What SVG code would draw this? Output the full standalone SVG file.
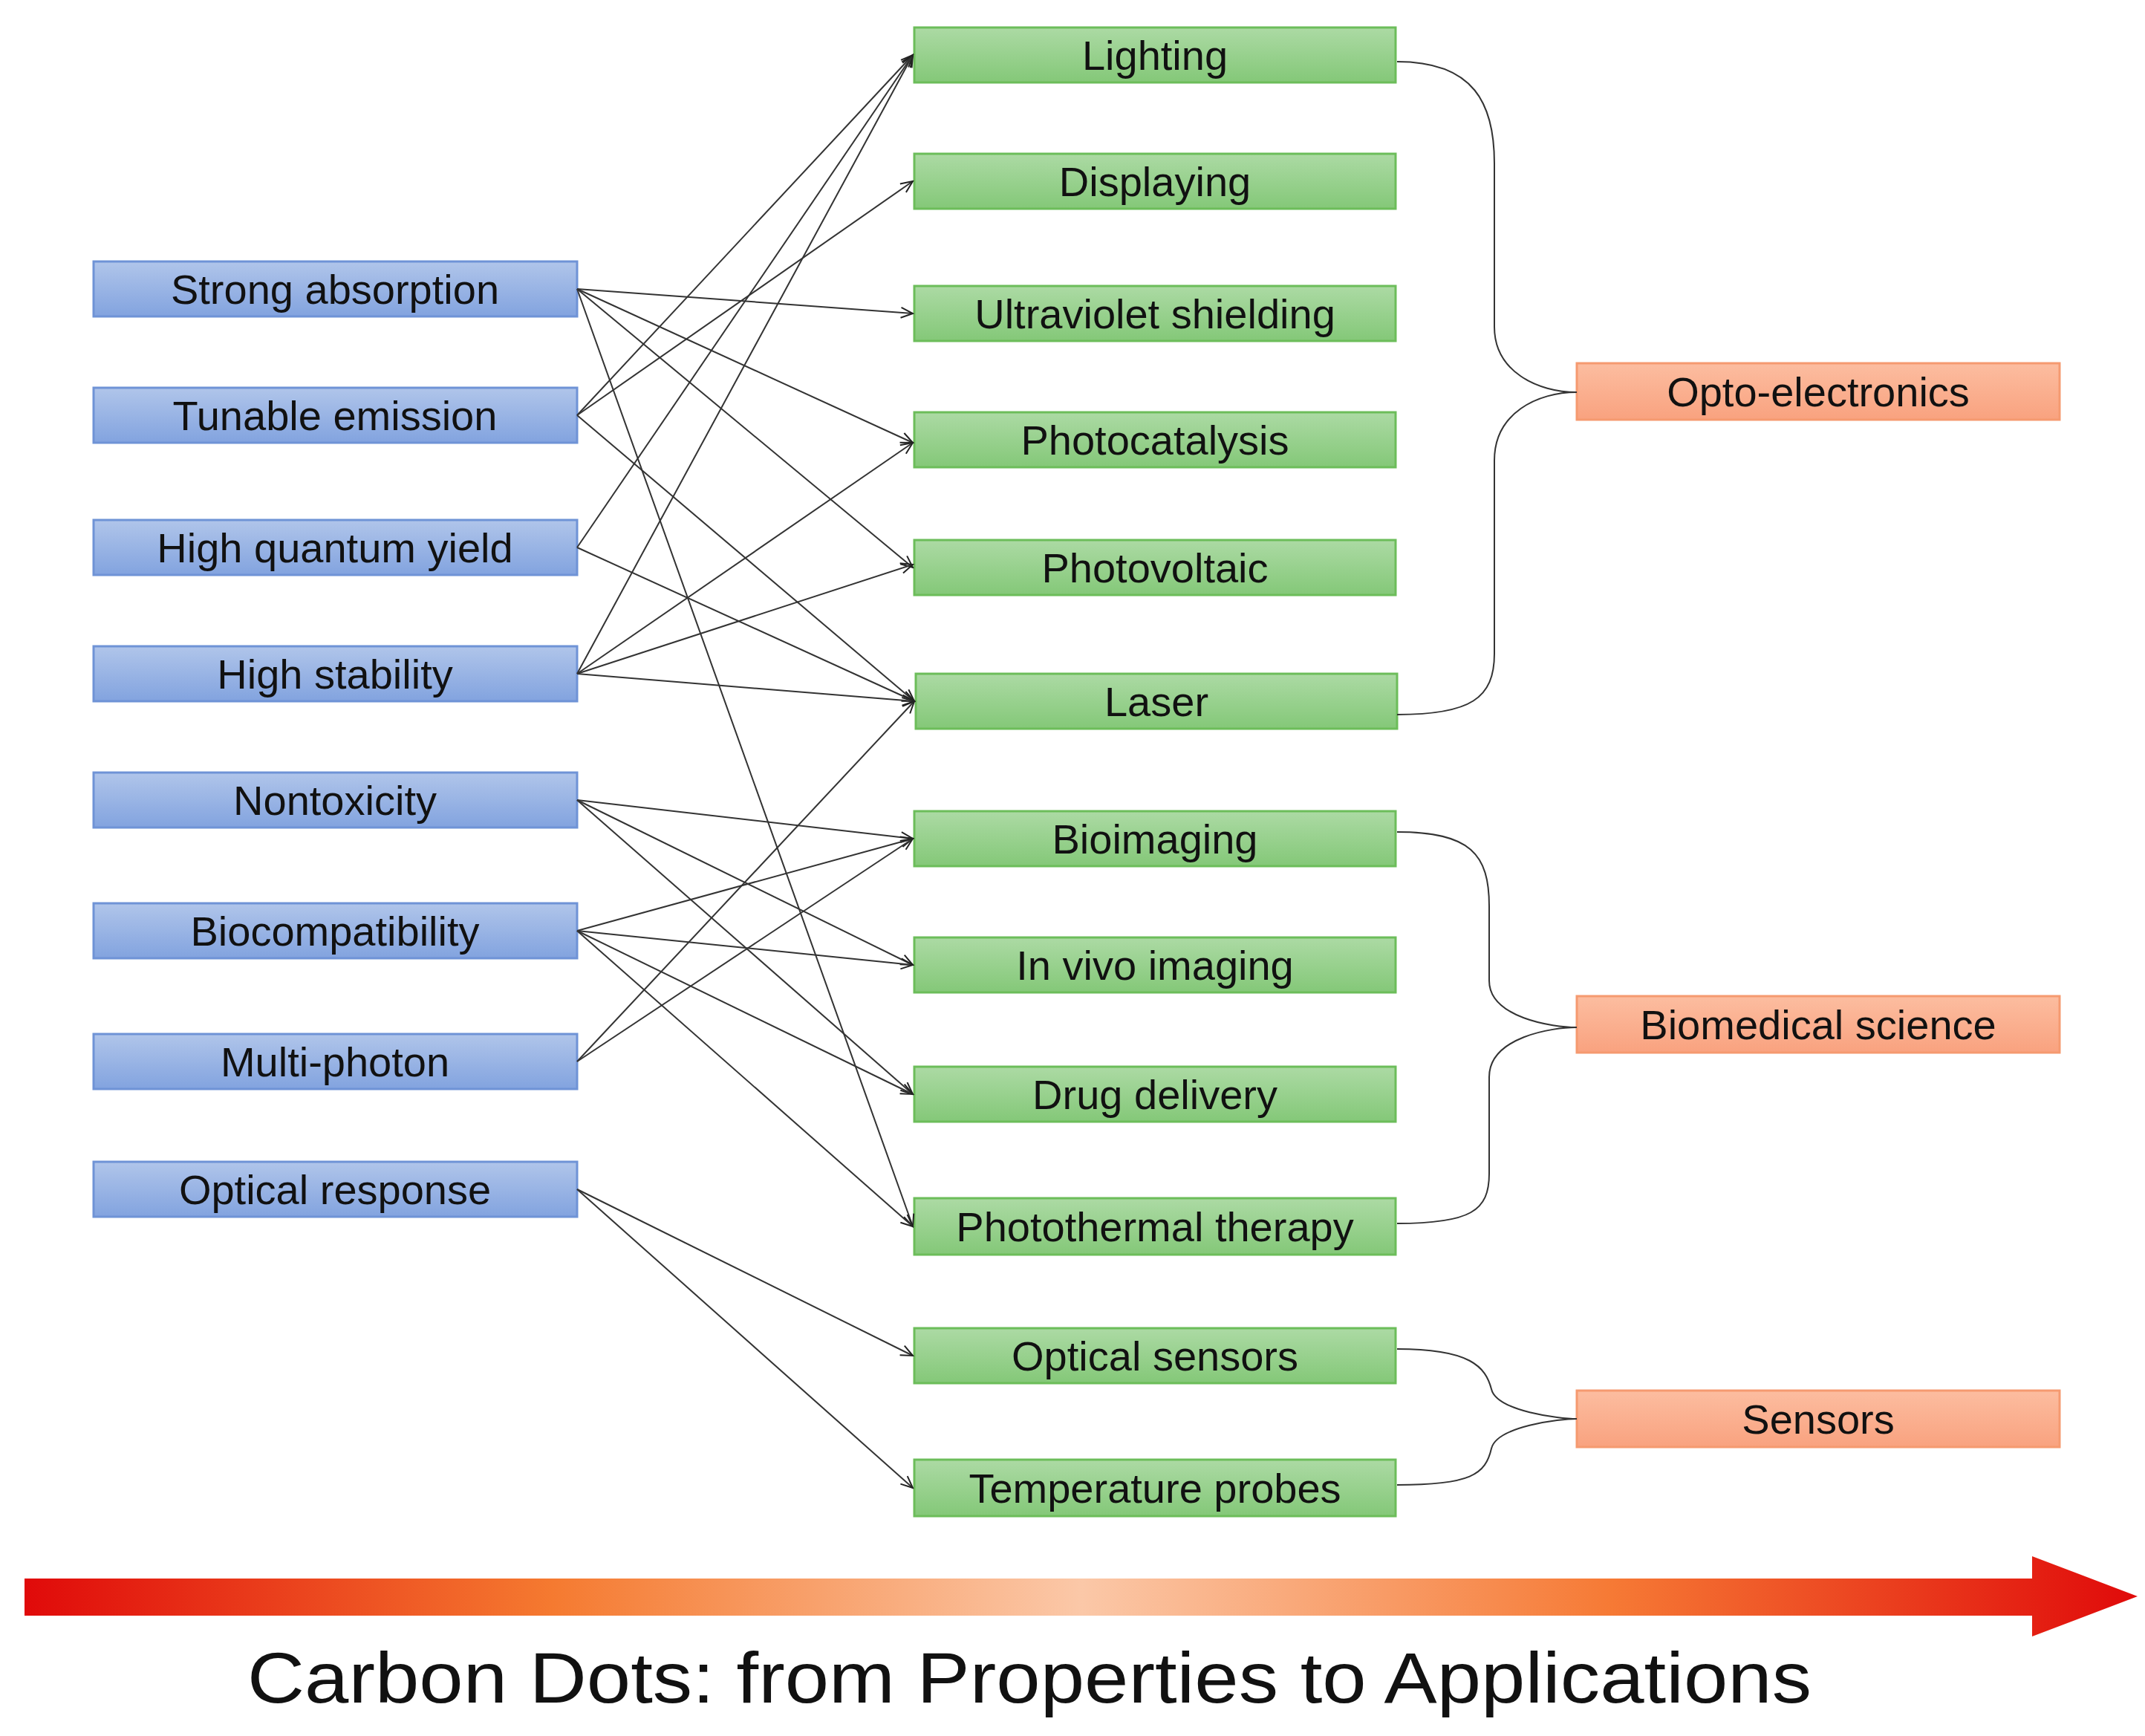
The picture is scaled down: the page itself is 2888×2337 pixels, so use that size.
<svg xmlns="http://www.w3.org/2000/svg" width="2888" height="2337" viewBox="0 0 2888 2337">
<defs>
<linearGradient id="gb" x1="0" y1="0" x2="0" y2="1"><stop offset="0" stop-color="#b0c5ea"/><stop offset="1" stop-color="#82a3df"/></linearGradient>
<linearGradient id="gg" x1="0" y1="0" x2="0" y2="1"><stop offset="0" stop-color="#acdaa4"/><stop offset="1" stop-color="#84c878"/></linearGradient>
<linearGradient id="go" x1="0" y1="0" x2="0" y2="1"><stop offset="0" stop-color="#fcbda0"/><stop offset="1" stop-color="#f9a27f"/></linearGradient>
<linearGradient id="ga" x1="0" y1="0" x2="1" y2="0"><stop offset="0" stop-color="#e00a0a"/><stop offset="0.25" stop-color="#f57a30"/><stop offset="0.5" stop-color="#fbc8a8"/><stop offset="0.75" stop-color="#f67a35"/><stop offset="1" stop-color="#e00a0a"/></linearGradient>
<marker id="ah" viewBox="0 0 20 20" refX="18" refY="10" markerWidth="20" markerHeight="20" markerUnits="userSpaceOnUse" orient="auto"><path d="M2,3 L18,10 L2,17" fill="none" stroke="#222" stroke-width="2"/></marker>
</defs>
<style>
.b{fill:url(#gb);stroke:#6f93d6;stroke-width:3}
.g{fill:url(#gg);stroke:#6cbd5a;stroke-width:3}
.o{fill:url(#go);stroke:#f59a70;stroke-width:3}
text{font-family:"Liberation Sans","Noto Sans",sans-serif;font-size:56px;fill:#111;text-anchor:middle;dominant-baseline:central}
.e{fill:none;stroke:#333;stroke-width:2;marker-end:url(#ah)}
.c{fill:none;stroke:#333;stroke-width:2}
</style>
<rect width="2888" height="2337" fill="#fff"/>
<g id="left">
<g id="n-strong"><rect class="b" x="126" y="352" width="651" height="74"/><text x="451" y="389">Strong absorption</text></g>
<g id="n-tunable"><rect class="b" x="126" y="522" width="651" height="74"/><text x="451" y="559">Tunable emission</text></g>
<g id="n-hqy"><rect class="b" x="126" y="700" width="651" height="74"/><text x="451" y="737">High quantum yield</text></g>
<g id="n-hs"><rect class="b" x="126" y="870" width="651" height="74"/><text x="451" y="907">High stability</text></g>
<g id="n-nontox"><rect class="b" x="126" y="1040" width="651" height="74"/><text x="451" y="1077">Nontoxicity</text></g>
<g id="n-biocomp"><rect class="b" x="126" y="1216" width="651" height="74"/><text x="451" y="1253">Biocompatibility</text></g>
<g id="n-multi"><rect class="b" x="126" y="1392" width="651" height="74"/><text x="451" y="1429">Multi-photon</text></g>
<g id="n-optresp"><rect class="b" x="126" y="1564" width="651" height="74"/><text x="451" y="1601">Optical response</text></g>
</g>
<g id="middle">
<g id="n-lighting"><rect class="g" x="1231" y="37" width="648" height="74"/><text x="1555" y="74">Lighting</text></g>
<g id="n-display"><rect class="g" x="1231" y="207" width="648" height="74"/><text x="1555" y="244">Displaying</text></g>
<g id="n-uv"><rect class="g" x="1231" y="385" width="648" height="74"/><text x="1555" y="422">Ultraviolet shielding</text></g>
<g id="n-photocat"><rect class="g" x="1231" y="555" width="648" height="74"/><text x="1555" y="592">Photocatalysis</text></g>
<g id="n-pv"><rect class="g" x="1231" y="727" width="648" height="74"/><text x="1555" y="764">Photovoltaic</text></g>
<g id="n-laser"><rect class="g" x="1233" y="907" width="648" height="74"/><text x="1557" y="944">Laser</text></g>
<g id="n-bioimg"><rect class="g" x="1231" y="1092" width="648" height="74"/><text x="1555" y="1129">Bioimaging</text></g>
<g id="n-invivo"><rect class="g" x="1231" y="1262" width="648" height="74"/><text x="1555" y="1299">In vivo imaging</text></g>
<g id="n-drug"><rect class="g" x="1231" y="1436" width="648" height="74"/><text x="1555" y="1473">Drug delivery</text></g>
<g id="n-ptt"><rect class="g" x="1231" y="1613" width="648" height="76"/><text x="1555" y="1651">Photothermal therapy</text></g>
<g id="n-optsens"><rect class="g" x="1231" y="1788" width="648" height="74"/><text x="1555" y="1825">Optical sensors</text></g>
<g id="n-temp"><rect class="g" x="1231" y="1965" width="648" height="76"/><text x="1555" y="2003">Temperature probes</text></g>
</g>
<g id="right">
<g id="n-opto"><rect class="o" x="2123" y="489" width="650" height="76"/><text x="2448" y="527">Opto-electronics</text></g>
<g id="n-biomed"><rect class="o" x="2123" y="1341" width="650" height="76"/><text x="2448" y="1379">Biomedical science</text></g>
<g id="n-sensors"><rect class="o" x="2123" y="1872" width="650" height="76"/><text x="2448" y="1910">Sensors</text></g>
</g>
<g id="connectors">
<path class="e" d="M777,389 L1229,422"/>
<path class="e" d="M777,389 L1229,596"/>
<path class="e" d="M777,389 L1229,764"/>
<path class="e" d="M777,389 L1229,1651"/>
<path class="e" d="M777,559 L1229,74"/>
<path class="e" d="M777,559 L1229,244"/>
<path class="e" d="M777,559 L1231,944"/>
<path class="e" d="M777,737 L1229,74"/>
<path class="e" d="M777,737 L1231,944"/>
<path class="e" d="M777,907 L1229,74"/>
<path class="e" d="M777,907 L1229,596"/>
<path class="e" d="M777,907 L1229,760"/>
<path class="e" d="M777,907 L1231,944"/>
<path class="e" d="M777,1077 L1229,1129"/>
<path class="e" d="M777,1077 L1229,1299"/>
<path class="e" d="M777,1077 L1229,1473"/>
<path class="e" d="M777,1253 L1229,1129"/>
<path class="e" d="M777,1253 L1229,1299"/>
<path class="e" d="M777,1253 L1229,1473"/>
<path class="e" d="M777,1253 L1229,1651"/>
<path class="e" d="M777,1429 L1229,1129"/>
<path class="e" d="M777,1429 L1231,944"/>
<path class="e" d="M777,1601 L1229,1825"/>
<path class="e" d="M777,1601 L1229,2003"/>
<path class="c" d="M1881,83 C1985,83 2012,140 2012,220 L2012,440 C2012,500 2070,528 2123,528 C2070,528 2012,556 2012,620 L2012,880 C2012,940 1980,962 1881,962"/>
<path class="c" d="M1881,1120 C1980,1120 2005,1150 2005,1220 L2005,1320 C2005,1370 2090,1383 2123,1383 C2090,1383 2005,1396 2005,1450 L2005,1580 C2005,1630 1980,1647 1881,1647"/>
<path class="c" d="M1881,1816 C1980,1816 2000,1840 2008,1870 C2015,1900 2100,1910 2123,1910 C2100,1910 2015,1920 2008,1950 C2000,1985 1980,1999 1881,1999"/>
</g>
<g id="banner">
<path d="M33,2125 L2736,2125 L2736,2095 L2878,2149 L2736,2203 L2736,2175 L33,2175 Z" fill="url(#ga)"/>
<text x="1386" y="2258" style="font-size:96px" textLength="2106" lengthAdjust="spacingAndGlyphs">Carbon Dots: from Properties to Applications</text>
</g>
</svg>
